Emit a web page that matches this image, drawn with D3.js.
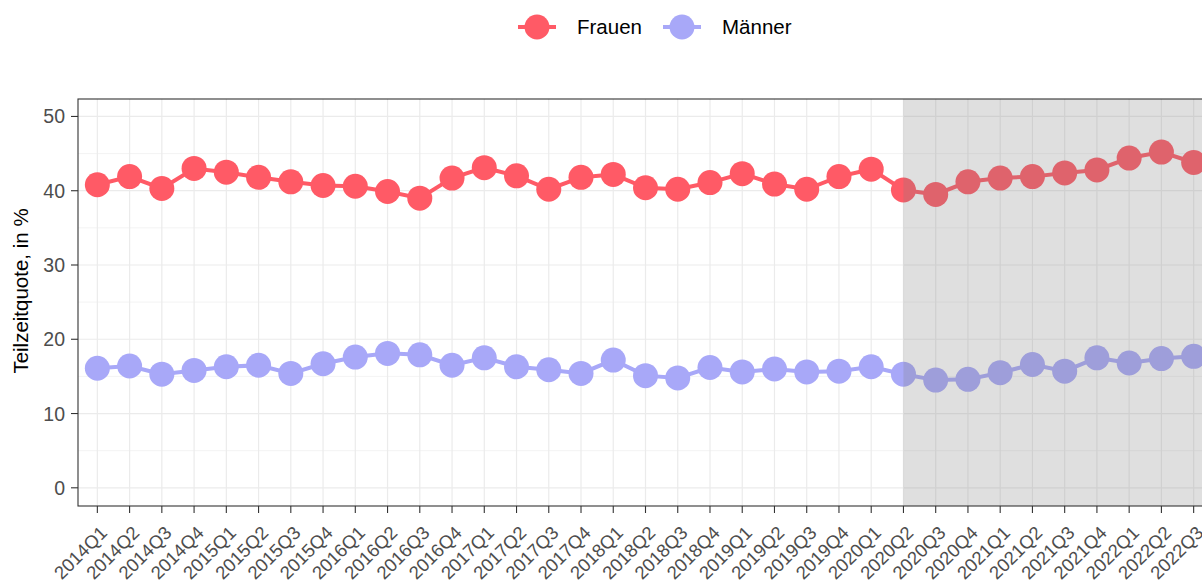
<!DOCTYPE html>
<meta charset="utf-8">
<script src="https://d3js.org/d3.v7.min.js"></script>
<style>
  body { margin: 0; background: #fff; }
  text { font-family: "Liberation Sans", Arial, sans-serif; }
</style>
<div id="chart"></div>
<script>
// quarters on the x axis
var quarters = ["2014Q1","2014Q2","2014Q3","2014Q4","2015Q1","2015Q2","2015Q3","2015Q4",
  "2016Q1","2016Q2","2016Q3","2016Q4","2017Q1","2017Q2","2017Q3","2017Q4",
  "2018Q1","2018Q2","2018Q3","2018Q4","2019Q1","2019Q2","2019Q3","2019Q4",
  "2020Q1","2020Q2","2020Q3","2020Q4","2021Q1","2021Q2","2021Q3","2021Q4",
  "2022Q1","2022Q2","2022Q3"];

// part-time rate, in %
var frauen = [40.8, 41.9, 40.3, 43.0, 42.5, 41.8, 41.2, 40.7, 40.6, 39.9, 39.0, 41.7,
  43.1, 42.0, 40.2, 41.8, 42.2, 40.4, 40.2, 41.1, 42.3, 40.9, 40.2, 41.9,
  42.9, 40.1, 39.5, 41.2, 41.7, 41.9, 42.4, 42.8, 44.4, 45.2, 43.8];
var maenner = [16.1, 16.4, 15.3, 15.8, 16.3, 16.5, 15.4, 16.7, 17.6, 18.1, 17.9, 16.5,
  17.5, 16.3, 15.9, 15.4, 17.2, 15.1, 14.8, 16.2, 15.6, 16.0, 15.6, 15.7,
  16.3, 15.3, 14.5, 14.6, 15.5, 16.6, 15.7, 17.5, 16.8, 17.4, 17.7];

var yTicks = [0, 10, 20, 30, 40, 50];
var yMinor = [5, 15, 25, 35, 45];
var shadeFrom = "2020Q2";

var series = [
  {name: "Frauen", values: frauen, color: "#ff5a66"},
  {name: "Männer", values: maenner, color: "#a8a8f8"}
];

var W = 1202, H = 582;
var panel = {left: 78, top: 99, bottom: 506, right: 1213};

var svg = d3.select("#chart").append("svg")
  .attr("width", W).attr("height", H);

var x = d3.scalePoint()
  .domain(quarters)
  .range([panel.left, panel.right])
  .padding(0.6);

var y = d3.scaleLinear()
  .domain([-2.45, 52.35])
  .range([panel.bottom, panel.top]);

// panel grid
var grid = svg.append("g");
grid.selectAll(".minor").data(yMinor).enter().append("line")
  .attr("x1", panel.left).attr("x2", panel.right)
  .attr("y1", function(d) { return y(d); }).attr("y2", function(d) { return y(d); })
  .attr("stroke", "#ebebeb").attr("stroke-width", 0.6);
grid.selectAll(".majorY").data(yTicks).enter().append("line")
  .attr("x1", panel.left).attr("x2", panel.right)
  .attr("y1", function(d) { return y(d); }).attr("y2", function(d) { return y(d); })
  .attr("stroke", "#ebebeb").attr("stroke-width", 1.2);
grid.selectAll(".majorX").data(quarters).enter().append("line")
  .attr("y1", panel.top).attr("y2", panel.bottom)
  .attr("x1", function(d) { return x(d); }).attr("x2", function(d) { return x(d); })
  .attr("stroke", "#ebebeb").attr("stroke-width", 1.2);

// lines and points
var line = d3.line()
  .x(function(d, i) { return x(quarters[i]); })
  .y(function(d) { return y(d); });

series.forEach(function(s) {
  svg.append("path")
    .datum(s.values)
    .attr("d", line)
    .attr("fill", "none")
    .attr("stroke", s.color)
    .attr("stroke-width", 4);
  svg.append("g").selectAll("circle")
    .data(s.values)
    .enter().append("circle")
      .attr("cx", function(d, i) { return x(quarters[i]); })
      .attr("cy", function(d) { return y(d); })
      .attr("r", 12.5)
      .attr("fill", s.color);
});

// shaded period
svg.append("rect")
  .attr("x", x(shadeFrom))
  .attr("y", panel.top)
  .attr("width", panel.right - x(shadeFrom))
  .attr("height", panel.bottom - panel.top)
  .attr("fill", "#7f7f7f")
  .attr("fill-opacity", 0.25);

// panel border
svg.append("rect")
  .attr("x", panel.left).attr("y", panel.top)
  .attr("width", panel.right - panel.left).attr("height", panel.bottom - panel.top)
  .attr("fill", "none").attr("stroke", "#333").attr("stroke-width", 1.1);

// y axis
var yAxis = svg.append("g");
yAxis.selectAll("line").data(yTicks).enter().append("line")
  .attr("x1", panel.left - 7).attr("x2", panel.left)
  .attr("y1", function(d) { return y(d); }).attr("y2", function(d) { return y(d); })
  .attr("stroke", "#333").attr("stroke-width", 1.1);
yAxis.selectAll("text").data(yTicks).enter().append("text")
  .attr("x", panel.left - 13)
  .attr("y", function(d) { return y(d); })
  .attr("dy", "0.36em")
  .attr("text-anchor", "end")
  .attr("font-size", 19.5)
  .attr("fill", "#4d4d4d")
  .text(function(d) { return d; });

svg.append("text")
  .attr("transform", "translate(28,291) rotate(-90)")
  .attr("text-anchor", "middle")
  .attr("font-size", 20.5)
  .attr("fill", "#000")
  .text("Teilzeitquote, in %");

// x axis
var xAxis = svg.append("g");
xAxis.selectAll("line").data(quarters).enter().append("line")
  .attr("x1", function(d) { return x(d); }).attr("x2", function(d) { return x(d); })
  .attr("y1", panel.bottom).attr("y2", panel.bottom + 7)
  .attr("stroke", "#333").attr("stroke-width", 1.1);
xAxis.selectAll("text").data(quarters).enter().append("text")
  .attr("transform", function(d) { return "translate(" + (x(d) + 11) + "," + (panel.bottom + 28) + ") rotate(-45)"; })
  .attr("text-anchor", "end")
  .attr("font-size", 18.5)
  .attr("fill", "#4d4d4d")
  .text(function(d) { return d; });

// legend
var legendX = [537, 682];
var legend = svg.append("g");
series.forEach(function(s, i) {
  var g = legend.append("g").attr("transform", "translate(" + legendX[i] + ",27)");
  g.append("line").attr("x1", -19).attr("x2", 19).attr("stroke", s.color).attr("stroke-width", 4);
  g.append("circle").attr("r", 12.5).attr("fill", s.color);
  g.append("text").attr("x", 40).attr("dy", "0.35em")
    .attr("font-size", 20.5).attr("fill", "#000").text(s.name);
});
</script>
